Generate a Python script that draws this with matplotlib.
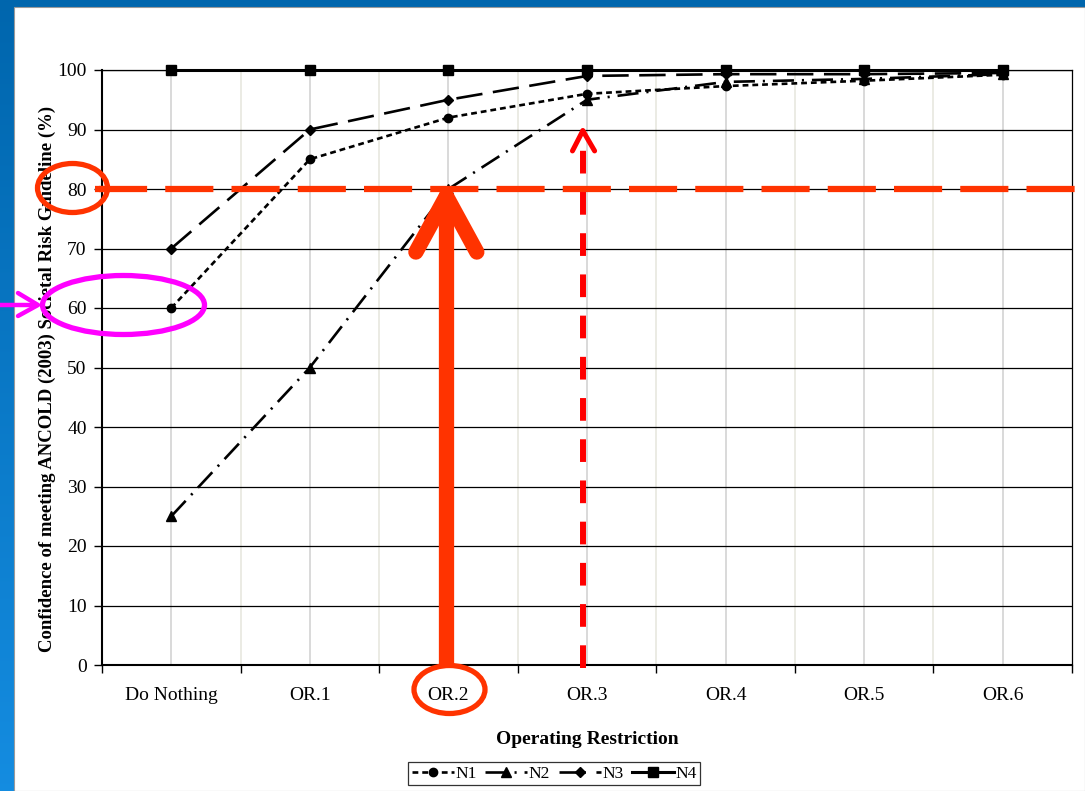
import matplotlib
matplotlib.use('Agg')
import matplotlib.pyplot as plt
import numpy as np
from matplotlib.patches import Ellipse, Rectangle

# ---------------- data ----------------
categories = ['Do Nothing', 'OR.1', 'OR.2', 'OR.3', 'OR.4', 'OR.5', 'OR.6']
n1 = [60, 85, 92, 96, 97.3, 98.2, 99.2]
n2 = [25, 50, 80, 95, 98.0, 98.5, 99.3]
n3 = [70, 90, 95, 99, 99.3, 99.3, 99.5]
n4 = [100, 100, 100, 100, 100, 100, 100]
series_names = ['N1', 'N2', 'N3', 'N4']
y_ticks = list(range(0, 101, 10))
threshold = 80          # ANCOLD confidence threshold highlighted
or2_index = 2           # OR.2 reaches threshold for N2
or3_index = 3           # OR.3
or3_level = 90

W, H = 1085, 791
fig = plt.figure(figsize=(W / 100, H / 100), dpi=100)
plt.rcParams['font.family'] = ['Liberation Serif', 'DejaVu Serif']

# ---------------- slide background ----------------
bg = fig.add_axes([0, 0, 1, 1], zorder=0)
bg.set_xlim(0, W); bg.set_ylim(H, 0); bg.axis('off')
grad = np.linspace(0, 1, 256)[:, None]
top_c = np.array([0.0, 0.40, 0.68]); bot_c = np.array([0.08, 0.55, 0.88])
img = top_c[None, None, :] * (1 - grad[:, :, None]) + bot_c[None, None, :] * grad[:, :, None]
bg.imshow(img, extent=(0, W, H, 0), aspect='auto', interpolation='bilinear')
bg.add_patch(Rectangle((14, 7), W - 14, H - 7, facecolor='white', edgecolor='#9a9a9a', lw=0.8))

# ---------------- main chart ----------------
ax = fig.add_axes([102 / W, 1 - 665 / H, (1072 - 102) / W, (665 - 70) / H], zorder=1)
ax.set_facecolor('white')
x = np.arange(len(categories))
ax.set_xlim(-0.5, len(categories) - 0.5)
ax.set_ylim(0, 100)

# grid
for yv in y_ticks:
    ax.axhline(yv, color='black', lw=0.9, zorder=1)
for xv in x:
    ax.axvline(xv, color='#cfcfcf', lw=1.1, zorder=0.5)
for xv in np.arange(-0.5, len(categories), 1.0)[1:-1]:
    ax.axvline(xv, color='#e6e6dc', lw=1.1, zorder=0.5)

lw = 1.9
l1, = ax.plot(x, n1, color='black', lw=lw, dashes=(2.2, 1.5), marker='o', ms=6, zorder=3, clip_on=False)
l2, = ax.plot(x, n2, color='black', lw=lw, dashes=(8, 3, 0.8, 3), marker='^', ms=6.5, zorder=3, clip_on=False)
l3, = ax.plot(x, n3, color='black', lw=lw, dashes=(10, 4), marker='D', ms=5, zorder=3, clip_on=False)
l4, = ax.plot(x, n4, color='black', lw=2.2, linestyle='-', marker='s', ms=6.5, zorder=3, clip_on=False)

ax.set_xticks(x)
ax.set_xticklabels(categories, fontsize=14)
ax.set_xticks(np.arange(-0.5, len(categories), 1.0), minor=True)
ax.tick_params(axis='x', which='major', length=0, pad=16)
ax.tick_params(axis='x', which='minor', length=6, width=1, direction='out')
ax.set_yticks(y_ticks)
ax.set_yticklabels([str(v) for v in y_ticks], fontsize=14)
ax.tick_params(axis='y', length=6, width=1, direction='out', pad=5)
for s in ['left', 'bottom']:
    ax.spines[s].set_linewidth(1.5)
for s in ['top', 'right']:
    ax.spines[s].set_linewidth(0.9)

ax.set_xlabel('Operating Restriction', fontsize=14, fontweight='bold', labelpad=19.5)
ax.set_ylabel('Confidence of meeting ANCOLD (2003) Societal Risk Guideline (%)',
              fontsize=13.5, fontweight='bold')
ax.yaxis.set_label_coords(-0.047, 0.48)

leg = fig.legend(handles=[l1, l2, l3, l4], labels=series_names, loc='center',
                 bbox_to_anchor=(0.511, 0.022), ncol=4, frameon=True, fancybox=False,
                 edgecolor='black', fontsize=12.5, handlelength=2.4, columnspacing=0.5,
                 handletextpad=0.1, borderpad=0.2, borderaxespad=0)
leg.get_frame().set_linewidth(0.9)

# ---------------- annotations in data coords ----------------
orange = '#FF3300'
red = '#FF0000'
ax.plot([-0.55, -0.44], [threshold, threshold], color=orange, lw=4.5, solid_capstyle='butt',
        clip_on=False, zorder=5)
ax.plot([-0.525, 6.7], [threshold, threshold], color=orange, lw=4.5,
        dashes=(7.7, 2.9), clip_on=False, zorder=5)

# big arrow at OR.2
xa = or2_index - 0.015
ax.plot([xa, xa], [0, threshold - 3], color=orange, lw=11, solid_capstyle='butt', zorder=6, clip_on=False)
for dx in (-0.22, 0.22):
    ax.plot([xa + dx, xa], [threshold - 10.6, threshold - 1.2], color=orange, lw=11,
            solid_capstyle='round', zorder=6, clip_on=False)

# red dashed arrow at OR.3
xr = or3_index - 0.03
ax.plot([xr, xr], [-0.5, or3_level - 2.2], color=red, lw=4.3, dashes=(3.8, 3.1),
        zorder=6, clip_on=False)
for dx in (-0.075, 0.085):
    ax.plot([xr + dx, xr], [or3_level - 3.6, or3_level - 0.2], color=red, lw=3.6,
            solid_capstyle='round', zorder=6, clip_on=False)

# ---------------- overlay annotations (pixel coords) ----------------
fg = fig.add_axes([0, 0, 1, 1], zorder=2)
fg.set_xlim(0, W); fg.set_ylim(H, 0); fg.axis('off'); fg.patch.set_visible(False)
fg.add_patch(Ellipse((72.5, 188), 70, 49, fill=False, edgecolor=orange, lw=3.8))
fg.add_patch(Ellipse((449.5, 689.5), 71, 48, fill=False, edgecolor=orange, lw=3.8))
fg.add_patch(Ellipse((123.5, 305), 162, 59, fill=False, edgecolor='#FF00FF', lw=3.8))
fg.plot([0, 37], [305, 305], color='#FF00FF', lw=3.2, solid_capstyle='round')
fg.plot([18, 38, 18], [293, 305, 316], color='#FF00FF', lw=3.2, solid_capstyle='round',
        solid_joinstyle='round')

fig.savefig('out.png', dpi=100, facecolor=fig.get_facecolor())
